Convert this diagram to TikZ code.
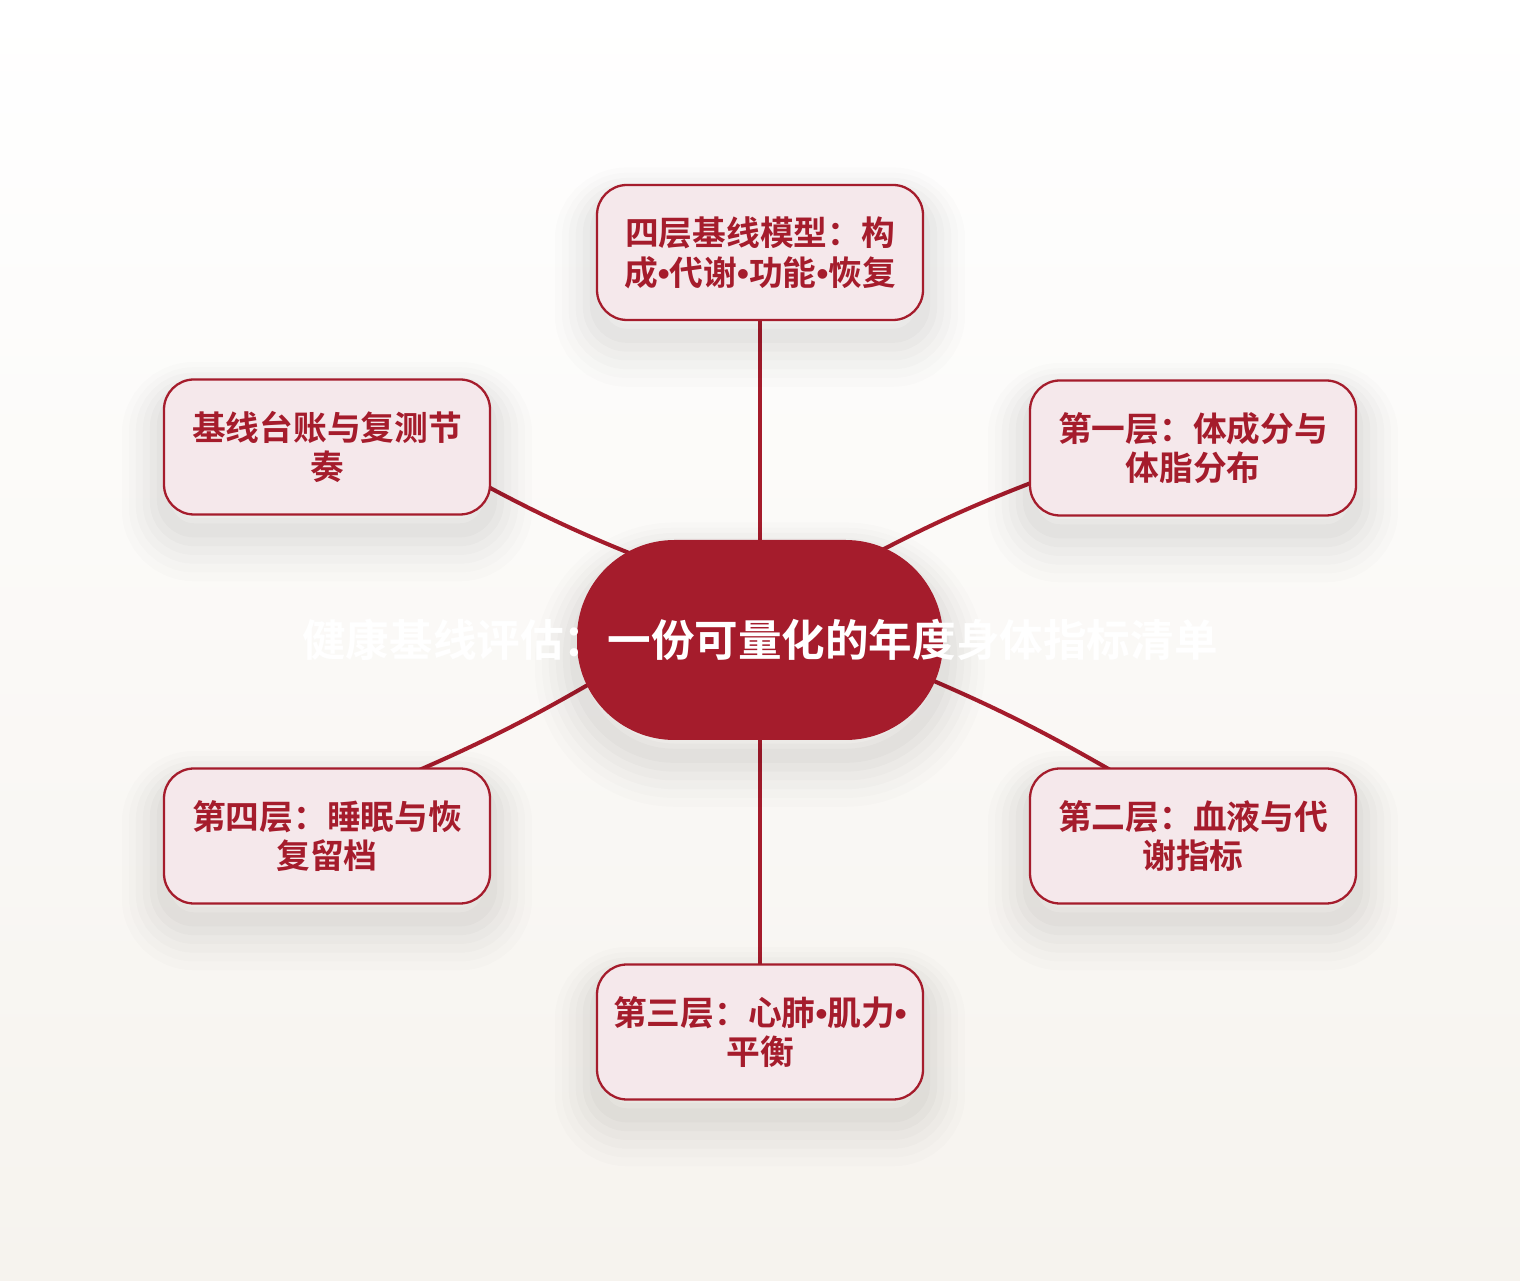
\documentclass[tikz,border=0pt]{standalone}
\usepackage{fontspec}
\setmainfont{Noto Sans CJK SC}[BoldFont={Noto Sans CJK SC Bold}]
\newfontfamily\latinfont{Liberation Sans}
\usepackage{xcolor}
\usetikzlibrary{calc}

\definecolor{deepred}{HTML}{A51C2C}
\definecolor{blush}{HTML}{F5E8EB}
\definecolor{paper}{HTML}{F6F3EE}

\newcommand{\bul}{{\latinfont\textbullet}}

\pgfdeclarelayer{back}
\pgfdeclarelayer{wires}
\pgfsetlayers{back,wires,main}

\begin{document}
\begin{tikzpicture}[
            softshadow/.style = {
                preaction={draw=black, draw opacity=0.010, line width=48pt, transform canvas={yshift=-14pt}},
                preaction={draw=black, draw opacity=0.012, line width=40pt, transform canvas={yshift=-13pt}},
                preaction={draw=black, draw opacity=0.014, line width=32pt, transform canvas={yshift=-12pt}},
                preaction={draw=black, draw opacity=0.016, line width=24pt, transform canvas={yshift=-11pt}},
                preaction={draw=black, draw opacity=0.018, line width=16pt, transform canvas={yshift=-10pt}},
                preaction={draw=black, draw opacity=0.02, line width=8pt, transform canvas={yshift=-9pt}}}, % fake blur under boxes
            hub/.style = {softshadow, fill=deepred, minimum width=7.32cm, minimum height=4cm,
                rounded corners=1.95cm, inner sep=0pt}, % centre stadium
            hubtext/.style = {text=white, inner sep=0pt, font=\bfseries\fontsize{24.8}{30}\selectfont}, % title runs past the stadium
            leaf/.style = {softshadow, draw=deepred, line width=1.3pt, fill=blush, rounded corners=0.6cm,
                minimum width=6.52cm, minimum height=2.7cm, text width=6cm, align=center, text=deepred,
                font=\bfseries\fontsize{19.2}{22.6}\selectfont}, % topic boxes
            wire/.style = {draw=deepred, line width=2.3pt} % connector line style
        ]
\useasboundingbox (0,0) rectangle (30.4,25.6);
\begin{pgfonlayer}{back}
\shade[top color=white, bottom color=paper] (0,0) rectangle (30.4,25.6);
\end{pgfonlayer}

\node[hub, label={[hubtext]center:健康基线评估：一份可量化的年度身体指标清单}] (hub) at (15.2,12.8) {};

\node[leaf] (model) at (15.2,20.55) {四层基线模型：构\\成\bul 代谢\bul 功能\bul 恢复};
\node[leaf] (layerA) at (23.86,16.64) {第一层：体成分与\\体脂分布};
\node[leaf] (layerB) at (23.86,8.88) {第二层：血液与代\\谢指标};
\node[leaf] (layerC) at (15.2,4.96) {第三层：心肺\bul 肌力\bul\\平衡};
\node[leaf] (layerD) at (6.54,8.88) {第四层：睡眠与恢\\复留档};
\node[leaf] (ledger) at (6.54,16.66) {基线台账与复测节\\奏};

\begin{pgfonlayer}{wires}
 \path [wire] (hub.center) edge (model.center);
 \path [wire] ($(hub.center)+(1.63,1.37)$) edge[bend left=4] ($(layerA.center)+(-2.53,-0.43)$);
 \path [wire] ($(hub.center)+(2.6,-0.45)$) edge[bend left=4] ($(layerB.center)+(-1.14,1.02)$);
 \path [wire] (hub.center) edge (layerC.center);
 \path [wire] ($(hub.center)+(-2.6,-0.4)$) edge[bend left=4] ($(layerD.center)+(1.15,1.02)$);
 \path [wire] ($(hub.center)+(-1.7,1.38)$) edge[bend left=4] ($(ledger.center)+(2.53,-0.42)$);
\end{pgfonlayer}
\end{tikzpicture}
\end{document}
